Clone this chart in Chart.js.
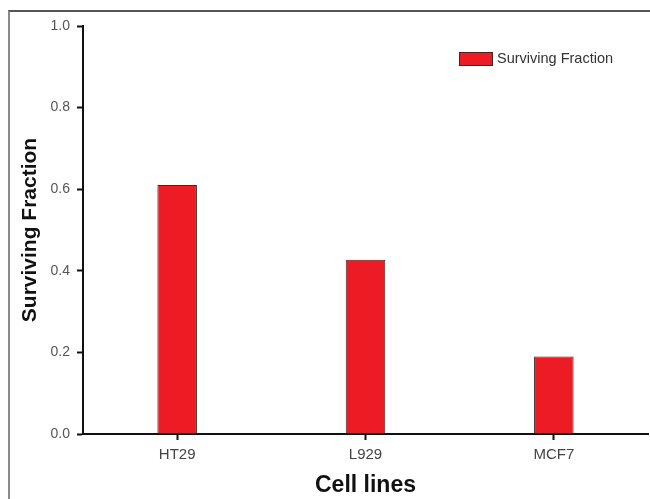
<!DOCTYPE html>
<html>
<head>
<meta charset="utf-8">
<script src="https://cdn.jsdelivr.net/npm/chart.js@4.4.1/dist/chart.umd.min.js"></script>
<style>
  html, body { margin: 0; padding: 0; background: #fff; }
  #wrap { position: relative; width: 650px; height: 499px; }
  #frame {
    position: absolute; left: 8px; top: 10px; right: 0; bottom: 0;
    border-left: 2px solid #8a8a8a; border-top: 2px solid #555;
  }
  #chart { position: absolute; left: 0; top: 0; }
</style>
</head>
<body>
<div id="wrap">
  <div id="frame"></div>
  <canvas id="chart" width="650" height="499"></canvas>
</div>
<script>
// データ
const cellLines = ["HT29", "L929", "MCF7"];
const survivingFraction = [0.61, 0.427, 0.19];
const yTicks = [0.0, 0.2, 0.4, 0.6, 0.8, 1.0];

const FONT = "'Liberation Sans', Arial, sans-serif";

// 凡例はグラフ領域の右上に置く
const insideLegend = {
  id: "insideLegend",
  afterDraw(chart) {
    const ds = chart.data.datasets[0];
    const c = chart.ctx;
    const area = chart.chartArea;
    const x = area.left + 376;
    const y = area.top + 26;
    c.save();
    c.fillStyle = ds.backgroundColor;
    c.fillRect(x, y, 34, 14);
    c.strokeStyle = "#3a2a2a";
    c.lineWidth = 1;
    c.strokeRect(x + 0.5, y + 0.5, 33, 13);
    c.fillStyle = "#333";
    c.font = "14.5px " + FONT;
    c.textBaseline = "middle";
    c.fillText(ds.label, x + 38, y + 7);
    c.restore();
  },
};

const ctx = document.getElementById("chart").getContext("2d");
new Chart(ctx, {
  type: "bar",
  data: {
    labels: cellLines,
    datasets: [
      {
        label: "Surviving Fraction",
        data: survivingFraction,
        backgroundColor: "#ed1c24",
        borderColor: "#3a2a2a",
        borderWidth: 1,
        barPercentage: 0.21,
        categoryPercentage: 1,
      },
    ],
  },
  options: {
    responsive: false,
    animation: false,
    layout: { padding: { top: 26, right: 2, bottom: 0, left: 0 } },
    plugins: {
      tooltip: { enabled: false },
      legend: { display: false },
    },
    scales: {
      x: {
        afterFit: (scale) => {
          scale.height = 65;
        },
        grid: {
          offset: false,
          drawOnChartArea: false,
          drawTicks: true,
          tickLength: 6,
          tickWidth: 2,
          tickColor: "#111",
        },
        border: { color: "#111", width: 2 },
        ticks: {
          color: "#444",
          padding: 6,
          font: { family: FONT, size: 15 },
        },
        title: {
          display: true,
          text: "Cell lines",
          color: "#111",
          padding: { top: 0, bottom: 0 },
          font: { family: FONT, size: 23, weight: "bold" },
        },
      },
      y: {
        min: 0,
        max: 1,
        afterFit: (scale) => {
          scale.width = 83;
        },
        afterBuildTicks: (scale) => {
          scale.ticks = yTicks.map((v) => ({ value: v }));
        },
        grid: {
          drawOnChartArea: false,
          drawTicks: true,
          tickLength: 6,
          tickWidth: 2,
          tickColor: "#111",
        },
        border: { color: "#111", width: 2 },
        ticks: {
          color: "#555",
          padding: 7,
          font: { family: FONT, size: 14 },
          callback: (v) => Number(v).toFixed(1),
        },
        title: {
          display: true,
          text: "Surviving Fraction",
          color: "#111",
          padding: { top: 18, bottom: 0 },
          font: { family: FONT, size: 21, weight: "bold" },
        },
      },
    },
  },
  plugins: [insideLegend],
});
</script>
</body>
</html>
